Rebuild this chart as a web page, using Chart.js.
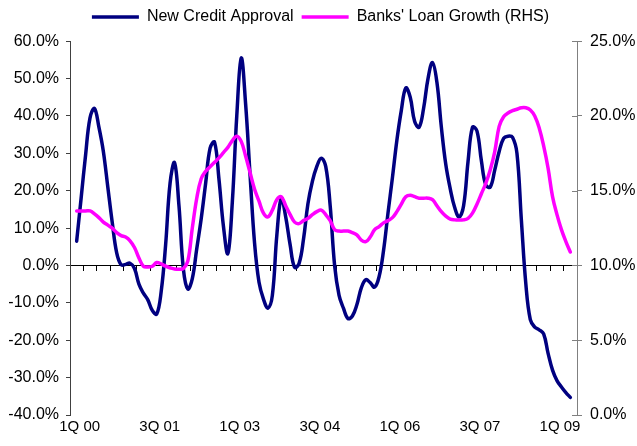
<!DOCTYPE html>
<html>
<head>
<meta charset="utf-8">
<script src="https://cdn.jsdelivr.net/npm/chart.js@4.4.0/dist/chart.umd.min.js"></script>
<style>
  html, body { margin: 0; padding: 0; background: #fff; }
  #wrap { width: 637px; height: 446px; }
</style>
</head>
<body>
<div id="wrap"><canvas id="chart" width="637" height="446"></canvas></div>
<script>
// Monthly categories, Jan 2000 to Jun 2009
const MONTH_NAMES = ['Jan','Feb','Mar','Apr','May','Jun','Jul','Aug','Sep','Oct','Nov','Dec'];
const categories = [];
for (let yr = 2000; yr <= 2009; yr++) {
  for (const m of MONTH_NAMES) categories.push(m + ' ' + String(yr).slice(2));
}
categories.length = 114;

// Quarter labels shown along the bottom, and the month each one sits on
const tickMonths = ['Feb 00', 'Aug 01', 'Feb 03', 'Aug 04', 'Feb 06', 'Aug 07', 'Feb 09'];
const tickLabels = ['1Q 00', '3Q 01', '1Q 03', '3Q 04', '1Q 06', '3Q 07', '1Q 09'];

// New credit approval, % y/y (left axis)
const newCreditApproval = [null,
  6.5, 18, 29.5, 39.5, 42, 37, 30.5, 21, 11.5, 3.4,
  0.2, 0.3, 0.6, -0.8, -5, -7.4, -9.2, -12, -13, -7,
  5.5, 22, 27.5, 16, -1, -6.3, -3.5, 4.5, 12.5, 22,
  31.4, 33, 23, 10.5, 3.2, 17, 40, 55.5, 43, 24,
  6, -4.5, -9, -11.4, -8, 8, 18, 13, 5.5, -0.5,
  0.5, 7, 16.5, 22.5, 26.5, 28.7, 26.5, 16, 0, -8,
  -11.5, -14.2, -13.5, -10.5, -6, -3.8, -4.6, -5.8, -3, 4,
  14, 23.5, 33.5, 41.5, 47.5, 45, 38.5, 37, 42, 50,
  54.3, 49, 37, 27, 20.5, 15.5, 13, 16, 27.8, 37,
  36, 28, 21.5, 21, 25.5, 30.5, 34, 34.6, 34.3, 30,
  12, -5, -14.5, -16.5, -17.2, -18.3, -23.5, -28, -30.8, -32.5,
  -34, -35.3, null];

// Banks' loan growth, % y/y (right axis)
const banksLoanGrowth = [null,
  13.65, 13.65, 13.65, 13.65, 13.45, 13.2, 12.9, 12.7, 12.5, 12.2,
  12.0, 11.9, 11.65, 11.2, 10.5, 9.95, 9.9, 9.95, 10.2, 10.1,
  9.95, 9.85, 9.77, 9.75, 9.8, 10.3, 12.5, 14.5, 15.8, 16.3,
  16.6, 16.9, 17.2, 17.55, 17.9, 18.35, 18.65, 18.3, 17.3, 16.2,
  15.1, 14.3, 13.5, 13.25, 13.7, 14.4, 14.6, 14.0, 13.4, 12.9,
  12.8, 13.0, 13.15, 13.4, 13.6, 13.7, 13.4, 13.0, 12.4, 12.3,
  12.3, 12.3, 12.2, 12.05, 11.7, 11.6, 11.9, 12.4, 12.6, 12.85,
  13.0, 13.2, 13.6, 14.1, 14.6, 14.7, 14.6, 14.5, 14.5, 14.5,
  14.4, 14.0, 13.6, 13.3, 13.1, 13.05, 13.05, 13.05, 13.15, 13.5,
  14.1, 14.8, 15.5, 16.4, 17.6, 19.3, 19.95, 20.2, 20.35, 20.45,
  20.55, 20.55, 20.4, 20.0, 19.2, 18.0, 16.5, 14.6, 13.4, 12.4,
  11.6, 10.9, null];

const FONT = 'Liberation Sans, Arial, sans-serif';
const pct = v => Number(v).toFixed(1) + '%';

// Right-hand axis tick marks cross the axis line
const crossTicks = {
  id: 'crossTicks',
  afterDraw(chart) {
    const s = chart.scales.y2;
    const ctx = chart.ctx;
    ctx.save();
    ctx.strokeStyle = '#808080';
    ctx.lineWidth = 1;
    s.ticks.forEach(t => {
      const py = Math.round(s.getPixelForValue(t.value)) + 0.5;
      ctx.beginPath();
      ctx.moveTo(s.left - 5, py);
      ctx.lineTo(s.left, py);
      ctx.stroke();
    });
    ctx.restore();
  }
};

new Chart(document.getElementById('chart'), {
  type: 'line',
  data: {
    labels: categories,
    datasets: [
      {
        label: 'New Credit Approval',
        data: newCreditApproval,
        yAxisID: 'y',
        borderColor: '#000080',
        backgroundColor: '#000080',
        borderWidth: 3.5,
        order: 2
      },
      {
        label: "Banks' Loan Growth (RHS)",
        data: banksLoanGrowth,
        yAxisID: 'y2',
        borderColor: '#FF00FF',
        backgroundColor: '#FF00FF',
        borderWidth: 3.5,
        order: 1
      }
    ]
  },
  options: {
    responsive: false,
    animation: false,
    devicePixelRatio: 1,
    layout: { padding: { left: 5, right: 1, top: 1, bottom: 7 } },
    elements: {
      point: { radius: 0, hoverRadius: 0 },
      line: { tension: 0.4, borderCapStyle: 'round', borderJoinStyle: 'round' }
    },
    plugins: {
      tooltip: { enabled: false },
      // empty spacer between the legend and the plot
      title: {
        display: true,
        text: '',
        position: 'top',
        weight: 500,
        font: { size: 1 },
        padding: { top: 0, bottom: 5 }
      },
      legend: {
        position: 'top',
        align: 'center',
        labels: {
          sort: (a, b) => a.datasetIndex - b.datasetIndex,
          usePointStyle: true,
          pointStyle: 'line',
          pointStyleWidth: 47,
          color: '#000',
          padding: 8,
          font: { family: FONT, size: 16 }
        }
      }
    },
    scales: {
      x: {
        type: 'category',
        offset: true,
        position: { y: 0 },
        grid: {
          drawOnChartArea: false,
          offset: true,
          tickLength: 5,
          lineWidth: 1,
          color: c => (c.index !== undefined && c.index % 3 === 0) ? '#000' : 'rgba(0,0,0,0)'
        },
        border: { color: '#000', width: 1 },
        ticks: { display: false, autoSkip: false }
      },
      xl: {
        type: 'category',
        offset: true,
        position: 'bottom',
        grid: { display: false, drawTicks: false },
        border: { display: false },
        ticks: {
          autoSkip: false,
          maxRotation: 0,
          minRotation: 0,
          padding: 3,
          labelOffset: 3,
          color: '#000',
          font: { family: FONT, size: 15 },
          callback: function (v, i) {
            const k = tickMonths.indexOf(categories[i]);
            return k >= 0 ? tickLabels[k] : '';
          }
        }
      },
      y: {
        position: 'left',
        min: -40,
        max: 60,
        afterFit: s => { s.width = 65; },
        ticks: {
          stepSize: 10,
          callback: pct,
          color: '#000',
          padding: 7,
          font: { family: FONT, size: 16 }
        },
        grid: { drawOnChartArea: false, tickLength: 4, color: '#404040' },
        border: { color: '#404040', width: 1 }
      },
      y2: {
        position: 'right',
        min: 0,
        max: 25,
        afterFit: s => { s.width = 59; },
        ticks: {
          stepSize: 5,
          callback: pct,
          color: '#000',
          padding: 8,
          font: { family: FONT, size: 16 }
        },
        grid: { drawOnChartArea: false, tickLength: 5, color: '#808080' },
        border: { color: '#808080', width: 1 }
      }
    }
  },
  plugins: [crossTicks]
});
</script>
</body>
</html>
